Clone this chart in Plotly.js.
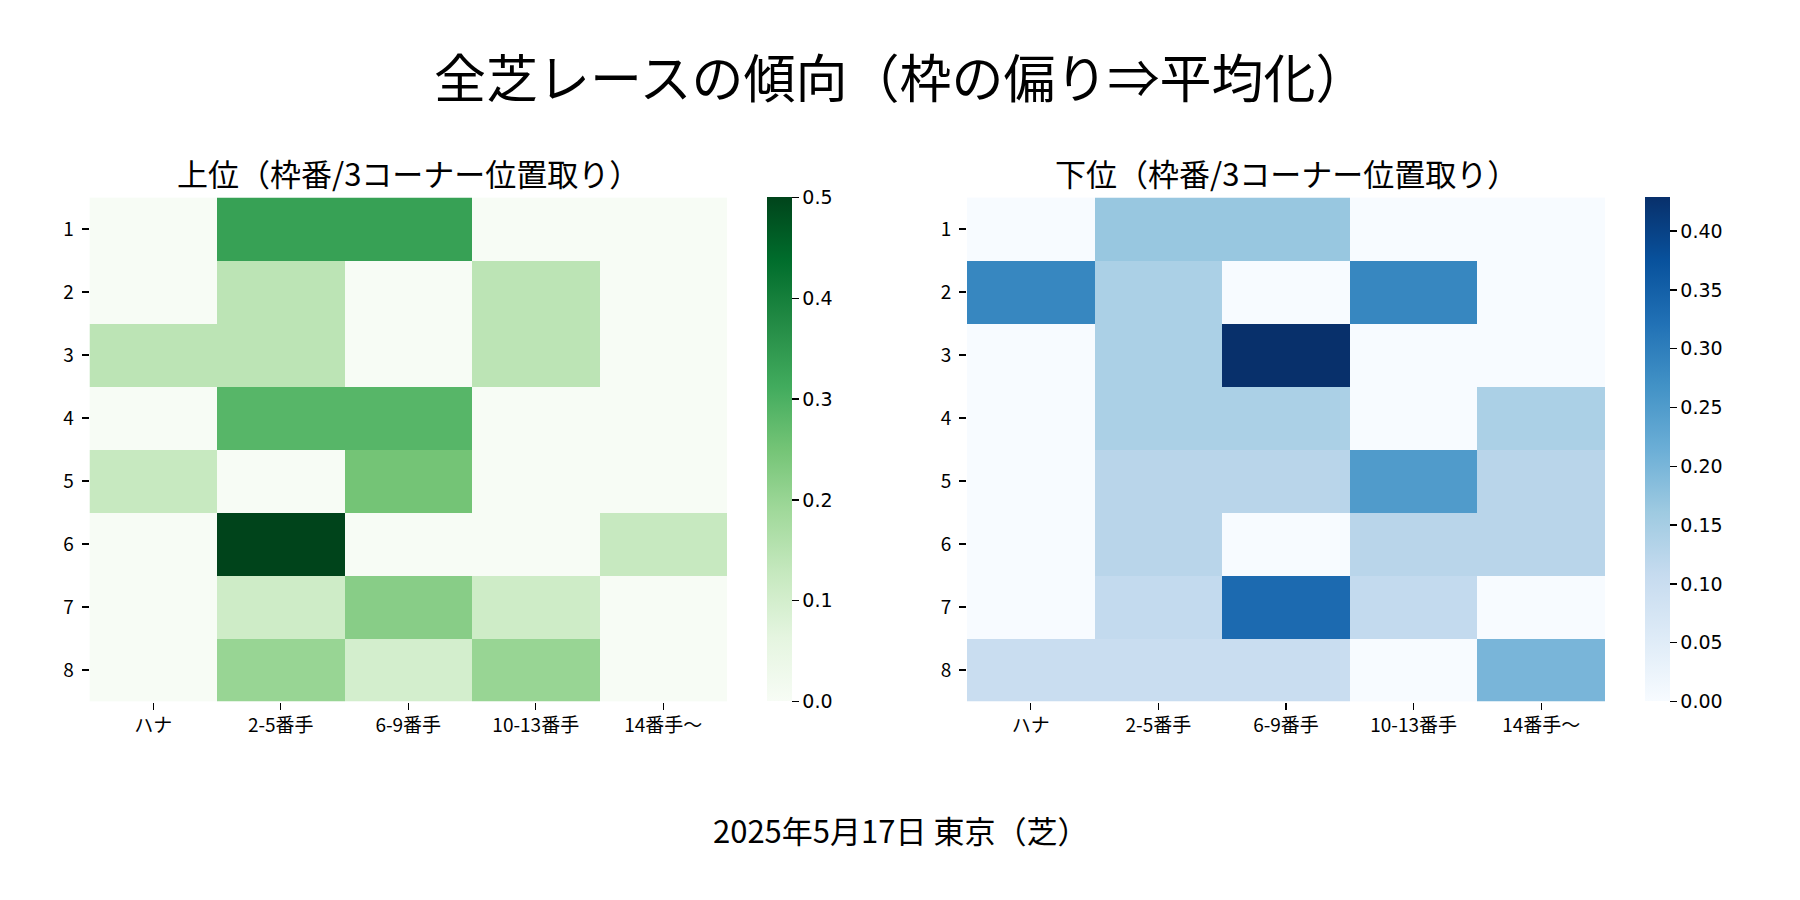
<!DOCTYPE html>
<html>
<head>
<meta charset="utf-8">
<script src="https://cdn.plot.ly/plotly-3.0.1.min.js"></script>
<style>
  body { margin: 0; background: #fff; }
  #chart { width: 1800px; height: 900px; }
</style>
</head>
<body>
<div id="chart"></div>
<script>
"use strict";

// Categorías
const posiciones = ["ハナ", "2-5番手", "6-9番手", "10-13番手", "14番手〜"];
const waku = ["1", "2", "3", "4", "5", "6", "7", "8"];

// 上位 (filas = 枠番 1..8)
const joui = [
    [0, 0.333, 0.333, 0, 0],
    [0, 0.143, 0, 0.143, 0],
    [0.143, 0.143, 0, 0.143, 0],
    [0, 0.286, 0.286, 0, 0],
    [0.125, 0, 0.25, 0, 0],
    [0, 0.5, 0, 0, 0.125],
    [0, 0.111, 0.222, 0.111, 0],
    [0, 0.2, 0.1, 0.2, 0]
];

// 下位
const kai = [
    [0, 0.167, 0.167, 0, 0],
    [0.286, 0.143, 0, 0.286, 0],
    [0, 0.143, 0.429, 0, 0],
    [0, 0.143, 0.143, 0, 0.143],
    [0, 0.125, 0.125, 0.25, 0.125],
    [0, 0.125, 0, 0.125, 0.125],
    [0, 0.111, 0.333, 0.111, 0],
    [0.1, 0.1, 0.1, 0, 0.2]
];

const tituloPrincipal = "全芝レースの傾向（枠の偏り⇒平均化）";
const tituloIzq = "上位（枠番/3コーナー位置取り）";
const tituloDer = "下位（枠番/3コーナー位置取り）";
const pie = "2025年5月17日 東京（芝）";

// Escalas tipo matplotlib (colorbrewer)
function escala(colores) {
    return colores.map((c, i) => [i / (colores.length - 1), c]);
}
const greens = escala(["#f7fcf5", "#e5f5e0", "#c7e9c0", "#a1d99b", "#74c476", "#41ab5d", "#238b45", "#006d2c", "#00441b"]);
const blues = escala(["#f7fbff", "#deebf7", "#c6dbef", "#9ecae1", "#6baed6", "#4292c6", "#2171b5", "#08519c", "#08306b"]);

const fuenteJP = "Noto Sans CJK JP, sans-serif";
const fuenteNum = "DejaVu Sans, sans-serif";

// Alto del área de celdas
const yAbajo = 198.5 / 900;
const yArriba = 702.5 / 900;

function barra(x, dtick, formato) {
    return {
        x: x, xanchor: "left", xpad: 0,
        y: yAbajo, yanchor: "bottom", ypad: 0,
        len: yArriba - yAbajo, lenmode: "fraction",
        thickness: 25, thicknessmode: "pixels",
        outlinewidth: 0,
        ticks: "outside", ticklen: 7, tickwidth: 1.3, tickcolor: "#000",
        tick0: 0, dtick: dtick, tickformat: formato,
        tickfont: { family: fuenteNum, size: 19, color: "#000" }
    };
}

const traceIzq = {
    type: "heatmap",
    z: joui, x: posiciones, y: waku,
    colorscale: greens, zmin: 0, zmax: 0.5,
    xaxis: "x", yaxis: "y",
    colorbar: barra(767 / 1800, 0.1, ".1f"),
    hoverinfo: "skip"
};

const traceDer = {
    type: "heatmap",
    z: kai, x: posiciones, y: waku,
    colorscale: blues, zmin: 0, zmax: 0.4286,
    xaxis: "x2", yaxis: "y2",
    colorbar: barra(1645 / 1800, 0.05, ".2f"),
    hoverinfo: "skip"
};

function ejeX(dominio) {
    return {
        domain: dominio, type: "category",
        showgrid: false, zeroline: false, showline: false,
        ticks: "outside", ticklen: 7, tickwidth: 1.3, tickcolor: "#000",
        tickfont: { family: fuenteJP, size: 19, color: "#000" }
    };
}
function ejeY(dominio, ancla) {
    return {
        domain: dominio, type: "category", anchor: ancla,
        autorange: "reversed",
        showgrid: false, zeroline: false, showline: false,
        ticks: "outside", ticklen: 7, tickwidth: 1.3, tickcolor: "#000",
        ticklabelstandoff: 4,
        tickfont: { family: fuenteJP, size: 19, color: "#000" }
    };
}

const layout = {
    width: 1800, height: 900,
    margin: { l: 0, r: 0, t: 0, b: 0 },
    paper_bgcolor: "#ffffff",
    plot_bgcolor: "#ffffff",
    showlegend: false,
    xaxis: ejeX([89.5 / 1800, 727 / 1800]),
    yaxis: ejeY([yAbajo, yArriba], "x"),
    xaxis2: ejeX([967 / 1800, 1605 / 1800]),
    yaxis2: ejeY([yAbajo, yArriba], "x2"),
    annotations: [
        {
            text: tituloPrincipal, xref: "paper", yref: "paper",
            x: 0.5, y: 1 - 75 / 900, xanchor: "center", yanchor: "middle",
            showarrow: false, font: { family: fuenteJP, size: 52, color: "#000" }
        },
        {
            text: tituloIzq, xref: "paper", yref: "paper",
            x: 408 / 1800, y: 1 - 172 / 900, xanchor: "center", yanchor: "middle",
            showarrow: false, font: { family: fuenteJP, size: 31, color: "#000" }
        },
        {
            text: tituloDer, xref: "paper", yref: "paper",
            x: 1286 / 1800, y: 1 - 172 / 900, xanchor: "center", yanchor: "middle",
            showarrow: false, font: { family: fuenteJP, size: 31, color: "#000" }
        },
        {
            text: pie, xref: "paper", yref: "paper",
            x: 0.5, y: 1 - 829 / 900, xanchor: "center", yanchor: "middle",
            showarrow: false, font: { family: fuenteJP, size: 31, color: "#000" }
        }
    ]
};

const config = { displayModeBar: false, staticPlot: true };

Plotly.newPlot("chart", [traceIzq, traceDer], layout, config);
</script>
</body>
</html>
